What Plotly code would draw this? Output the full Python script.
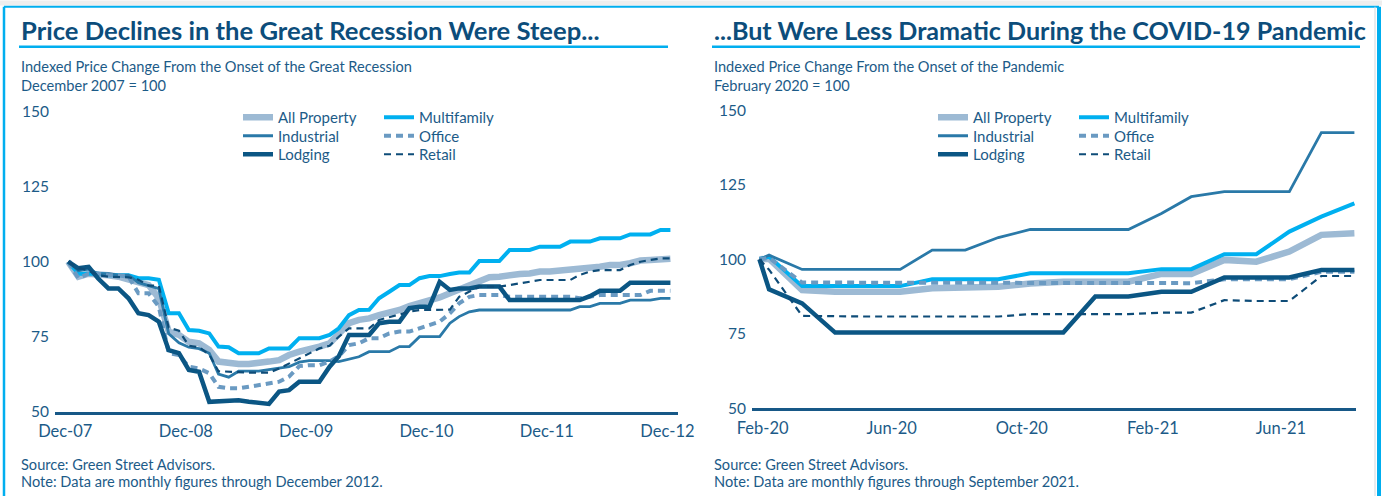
import pandas as pd
import plotly.graph_objects as go

W, H = 1382, 496

# ---------------- data ----------------
series_names = ["All Property", "Multifamily", "Industrial", "Office", "Lodging", "Retail"]

# Great Recession: monthly, Dec-07 .. Dec-12 (index Dec-2007 = 100)
gr_dates = pd.date_range("2007-12-01", periods=61, freq="MS") + pd.Timedelta(days=9)
gr_all = [100, 95, 96, 96, 95.5, 95, 94.1, 92.8, 92.2, 87.8,
          76.7, 75.6, 73.3, 72.8, 70.6, 66.7, 66.1, 65.9, 65.9, 66.1,
          66.7, 67.2, 68.9, 70, 70.6, 71.7, 72.8, 76, 79.5, 80.6,
          81.1, 82.2, 82.8, 83.9, 85.2, 86.1, 87.2, 88.1, 89.5, 90.8,
          92.2, 93.9, 94.8, 95, 95.6, 95.9, 96.1, 96.7, 96.7, 97,
          97, 97.2, 97.8, 98.3, 98.9, 98.9, 99.5, 100.4, 100.6, 101, 101]
gr_multi = [100, 96, 96, 96, 95.5, 95.5, 95.5, 94.5, 94.5, 94,
            82.8, 82.8, 77.2, 77, 76.1, 71.7, 71.5, 69.5, 69.5, 69.5,
            71.1, 71.1, 71.1, 74.5, 74.5, 74.5, 75.6, 77.8, 82.2, 83.9,
            84, 87.8, 90, 92.2, 92.2, 94.5, 95.2, 95.2, 95.9, 96.4,
            96.4, 100.2, 100.2, 100.2, 103.9, 103.9, 103.9, 105, 105, 105,
            106.7, 106.7, 106.7, 107.8, 107.8, 107.8, 109.1, 109.1, 109.1, 110.6, 110.6]
gr_ind = [100, 97, 97.5, 96, 96, 95.5, 95.5, 93, 92, 91,
          76, 73, 71.5, 71, 69.5, 62.5, 61.5, 63.5, 63.5, 63.5,
          64, 64.5, 65, 66.5, 67, 67, 67, 66.7, 67.5, 68.3,
          70, 70, 70, 71.7, 71.7, 75, 75, 75, 79.5, 81.7,
          83.3, 83.9, 83.9, 83.9, 83.9, 83.9, 83.9, 83.9, 83.9, 83.9,
          83.9, 85, 85, 86.1, 86.1, 86.1, 87.2, 87.2, 87.2, 87.8, 87.8]
gr_office = [100, 94.5, 96, 96, 95.5, 95.5, 95, 89.5, 89.5, 85,
             69.5, 68.9, 65, 64.4, 62.8, 58.3, 57.8, 57.8, 58.3, 58.9,
             59.4, 60, 61.7, 65.2, 65.5, 65.5, 66.7, 68.5, 72.2, 72.8,
             74.5, 74.5, 76.1, 76.7, 76.7, 77.8, 78.9, 80, 82.8, 86.1,
             88.3, 88.9, 88.9, 88.9, 88.3, 88.3, 88.3, 88.3, 88.3, 88.3,
             88.3, 87.8, 88.3, 88.9, 88.9, 88.9, 88.9, 88.9, 90.3, 90.3, 90.3]
gr_lodging = [100, 97.8, 98.3, 94.4, 91.1, 91.1, 87.8, 82.8, 82.2, 80,
              70.5, 69.5, 63.9, 63.3, 53.3, 53.4, 53.5, 53.8, 53.3, 52.8,
              52.6, 56.7, 57.2, 60, 60, 60, 65, 68.5, 75.6, 75.6,
              75.6, 79.5, 80, 80, 84.5, 85, 85, 93.3, 90.6, 91.1,
              91.1, 91.7, 91.7, 91.7, 87.2, 87.2, 87.2, 87.2, 87.2, 87.2,
              87.2, 87.2, 88.5, 90.3, 90.3, 90.3, 93, 93, 93, 93, 93]
gr_retail = [100, 98, 97, 95.5, 95, 94.8, 94.8, 94, 92, 92,
             78, 77, 72, 71.5, 69, 63.5, 63.3, 63, 63, 63,
             63, 64.4, 66.1, 67.8, 69.4, 71.1, 72, 75, 77.8, 77.8,
             77.8, 80.6, 81.5, 82.2, 83.3, 83.9, 83.9, 83.9, 84, 88.3,
             90, 91.7, 91.7, 91.7, 92.2, 92.8, 93.3, 93.9, 93.9, 93.9,
             93.9, 95.6, 96.7, 97.2, 97.2, 97.2, 98.9, 100, 100.6, 101.1, 101.1]

gr_tick_dates = ["2007-12-01", "2008-12-01", "2009-12-01", "2010-12-01", "2011-12-01", "2012-12-01"]
gr_tick_labels = ["Dec-07", "Dec-08", "Dec-09", "Dec-10", "Dec-11", "Dec-12"]

# COVID-19: Feb-20 base, then monthly observations
cv_dates = ["2020-01-29", "2020-02-07", "2020-03-09", "2020-04-09", "2020-05-09",
            "2020-06-09", "2020-07-09", "2020-08-09", "2020-09-09", "2020-10-09",
            "2020-11-09", "2020-12-09", "2021-01-09", "2021-02-09", "2021-03-09",
            "2021-04-09", "2021-05-09", "2021-06-09", "2021-07-09", "2021-08-09"]
cv_all = [100, 100.2, 89.7, 89.1, 89.1, 89.1, 90.3, 90.3, 90.8, 91.9,
          92.5, 92.5, 92.5, 95.1, 95.1, 99.8, 99.2, 102.6, 108.2, 108.7]
cv_multi = [100, 100.9, 91, 91, 91, 91, 93.3, 93.3, 93.3, 95.3,
            95.3, 95.3, 95.3, 96.7, 96.7, 101.7, 101.7, 109.3, 114.3, 118.8]
cv_ind = [100, 101.4, 96.6, 96.6, 96.6, 96.6, 103.1, 103.1, 107.3, 110,
          110, 110, 110, 115.4, 121, 122.7, 122.7, 122.7, 142.5, 142.5]
cv_office = [100, 100.5, 92.2, 92.2, 92.2, 92.2, 92.2, 92.2, 92.2, 92.2,
             92, 92, 92, 92, 92, 93.3, 93.3, 93.3, 95.8, 95.8]
cv_lodging = [100, 89.9, 85.2, 75.4, 75.4, 75.4, 75.4, 75.4, 75.4, 75.4,
              75.4, 87.5, 87.5, 89.1, 89.1, 93.9, 93.9, 93.9, 96.4, 96.4]
cv_retail = [100, 96.5, 81, 80.8, 80.8, 80.8, 80.8, 80.8, 80.8, 81.6,
             81.6, 81.6, 81.6, 82.1, 82.1, 86.3, 86, 86, 94.4, 94.4]

cv_tick_dates = ["2020-02-01", "2020-06-01", "2020-10-01", "2021-02-01", "2021-06-01"]
cv_tick_labels = ["Feb-20", "Jun-20", "Oct-20", "Feb-21", "Jun-21"]

y_ticks = [50, 75, 100, 125, 150]

# ---------------- styles ----------------
FONT = "Lato, 'Source Sans Pro', sans-serif"
TITLE_C = "#0c4d7b"
TEXT_C = "#1c5b88"
CYAN = "#00aeef"
AXIS_C = "#175887"

styles = {
    "All Property": dict(color="#9dbad4", width=6.5, dash="solid"),
    "Multifamily": dict(color="#00b0f0", width=4, dash="solid"),
    "Industrial": dict(color="#2a79a8", width=2.8, dash="solid"),
    "Office": dict(color="#6a9ac2", width=4, dash="7px,5px"),
    "Lodging": dict(color="#0b5684", width=4.5, dash="solid"),
    "Retail": dict(color="#0e4c78", width=2.2, dash="7px,5px"),
}
row_of = {"All Property": 0, "Multifamily": 0, "Industrial": 1, "Office": 1, "Lodging": 2, "Retail": 2}

fig = go.Figure()

panels = [
    dict(xa="x", ya="y", dates=gr_dates,
         vals=[gr_all, gr_multi, gr_ind, gr_office, gr_lodging, gr_retail], legs=["legend", "legend2", "legend3"]),
    dict(xa="x2", ya="y2", dates=cv_dates,
         vals=[cv_all, cv_multi, cv_ind, cv_office, cv_lodging, cv_retail], legs=["legend4", "legend5", "legend6"]),
]
for p in panels:
    for name, v in zip(series_names, p["vals"]):
        s = styles[name]
        fig.add_trace(go.Scatter(
            x=p["dates"], y=v, name=name, mode="lines",
            line=dict(color=s["color"], width=s["width"], dash=s["dash"]),
            xaxis=p["xa"], yaxis=p["ya"], legend=p["legs"][row_of[name]],
            hoverinfo="skip"))

def px_x(v):
    return v / W

def px_y(v):
    return 1 - v / H

# legends: one horizontal legend per row, per panel
leg_common = dict(orientation="h", xanchor="left", yanchor="middle", bgcolor="rgba(0,0,0,0)",
                  font=dict(family=FONT, size=15, color=TEXT_C), entrywidth=96,
                  entrywidthmode="pixels", traceorder="normal", itemwidth=30)
row_y = [117.5, 136, 154.5]
legend_layout = {}
for k, (lx, rows) in enumerate([(238, ["legend", "legend2", "legend3"]),
                                 (933, ["legend4", "legend5", "legend6"])]):
    for r, key in enumerate(rows):
        legend_layout[key] = dict(leg_common, x=px_x(lx), y=px_y(row_y[r]))

xcommon = dict(type="date", showgrid=False, zeroline=False, showline=True, linecolor=AXIS_C,
               linewidth=2.6, ticks="outside", ticklen=3, tickcolor="rgba(0,0,0,0)",
               tickfont=dict(family=FONT, size=16.5, color=TEXT_C), tickmode="array", automargin=False)
ycommon = dict(range=[50, 150], showgrid=False, zeroline=False, showline=False,
               tickmode="array", tickvals=y_ticks, ticks="outside", ticklen=2,
               tickcolor="rgba(0,0,0,0)", tickfont=dict(family=FONT, size=15.5, color=TEXT_C),
               automargin=False)

fig.update_layout(
    width=W, height=H, autosize=False,
    margin=dict(l=0, r=0, t=0, b=0, pad=0, autoexpand=False),
    paper_bgcolor="white", plot_bgcolor="rgba(0,0,0,0)",
    showlegend=True,
    xaxis=dict(xcommon, domain=[px_x(55), px_x(678)], range=["2007-10-31", "2013-01-02"],
               tickvals=gr_tick_dates, ticktext=gr_tick_labels, anchor="y"),
    yaxis=dict(ycommon, domain=[px_y(411.7), px_y(111.7)], anchor="x"),
    xaxis2=dict(xcommon, domain=[px_x(752), px_x(1356)], range=["2020-01-22", "2021-08-10 12:00"],
                tickvals=cv_tick_dates, ticktext=cv_tick_labels, anchor="y2"),
    yaxis2=dict(ycommon, domain=[px_y(408.3), px_y(110.3)], anchor="x2"),
    **legend_layout,
)

# titles, subtitles, notes
texts = [
    (19, 30, "<b>Price Declines in the Great Recession Were Steep...</b>", 25.6, TITLE_C),
    (712, 30, "<b>...But Were Less Dramatic During the COVID-19 Pandemic</b>", 25.1, TITLE_C),
    (19, 67, "Indexed Price Change From the Onset of the Great Recession", 14.6, TEXT_C),
    (19, 85, "December 2007 = 100", 14.6, TEXT_C),
    (712, 67, "Indexed Price Change From the Onset of the Pandemic", 14.6, TEXT_C),
    (712, 85, "February 2020 = 100", 14.6, TEXT_C),
    (19, 464, "Source: Green Street Advisors.", 14.6, TEXT_C),
    (19, 481, "Note: Data are monthly figures through December 2012.", 14.6, TEXT_C),
    (712, 464, "Source: Green Street Advisors.", 14.6, TEXT_C),
    (712, 481, "Note: Data are monthly figures through September 2021.", 14.6, TEXT_C),
]
for x, y, t, sz, c in texts:
    fig.add_annotation(x=px_x(x), y=px_y(y), xref="paper", yref="paper", text=t,
                       showarrow=False, xanchor="left", yanchor="middle",
                       font=dict(family=FONT, size=sz, color=c))

# title underlines and frame
shapes = [
    dict(x0=19, x1=668, y0=46.7, y1=46.7, color=CYAN, width=2.5),
    dict(x0=712, x1=1360, y0=46.7, y1=46.7, color=CYAN, width=2.5),
    dict(x0=0, x1=W, y0=3, y1=3, color="#eeeeee", width=5),
    dict(x0=4, x1=1379, y0=6.7, y1=6.7, color=CYAN, width=2),
    dict(x0=4, x1=4, y0=6.7, y1=H, color=CYAN, width=2.5),
    dict(x0=1375, x1=1375, y0=6.7, y1=H, color="#cfd8de", width=1),
    dict(x0=1379, x1=1379, y0=6.7, y1=H, color=CYAN, width=4),
]
for s in shapes:
    fig.add_shape(type="line", xref="paper", yref="paper",
                  x0=px_x(s["x0"]), x1=px_x(s["x1"]), y0=px_y(s["y0"]), y1=px_y(s["y1"]),
                  line=dict(color=s["color"], width=s["width"]))

page_js = ("document.documentElement.style.margin='0';document.documentElement.style.padding='0';"
           "document.body.style.margin='0';document.body.style.padding='0';"
           "document.documentElement.style.overflow='hidden';document.body.style.overflow='hidden';")
fig.write_html("out.html", post_script=page_js, config={"displayModeBar": False})
